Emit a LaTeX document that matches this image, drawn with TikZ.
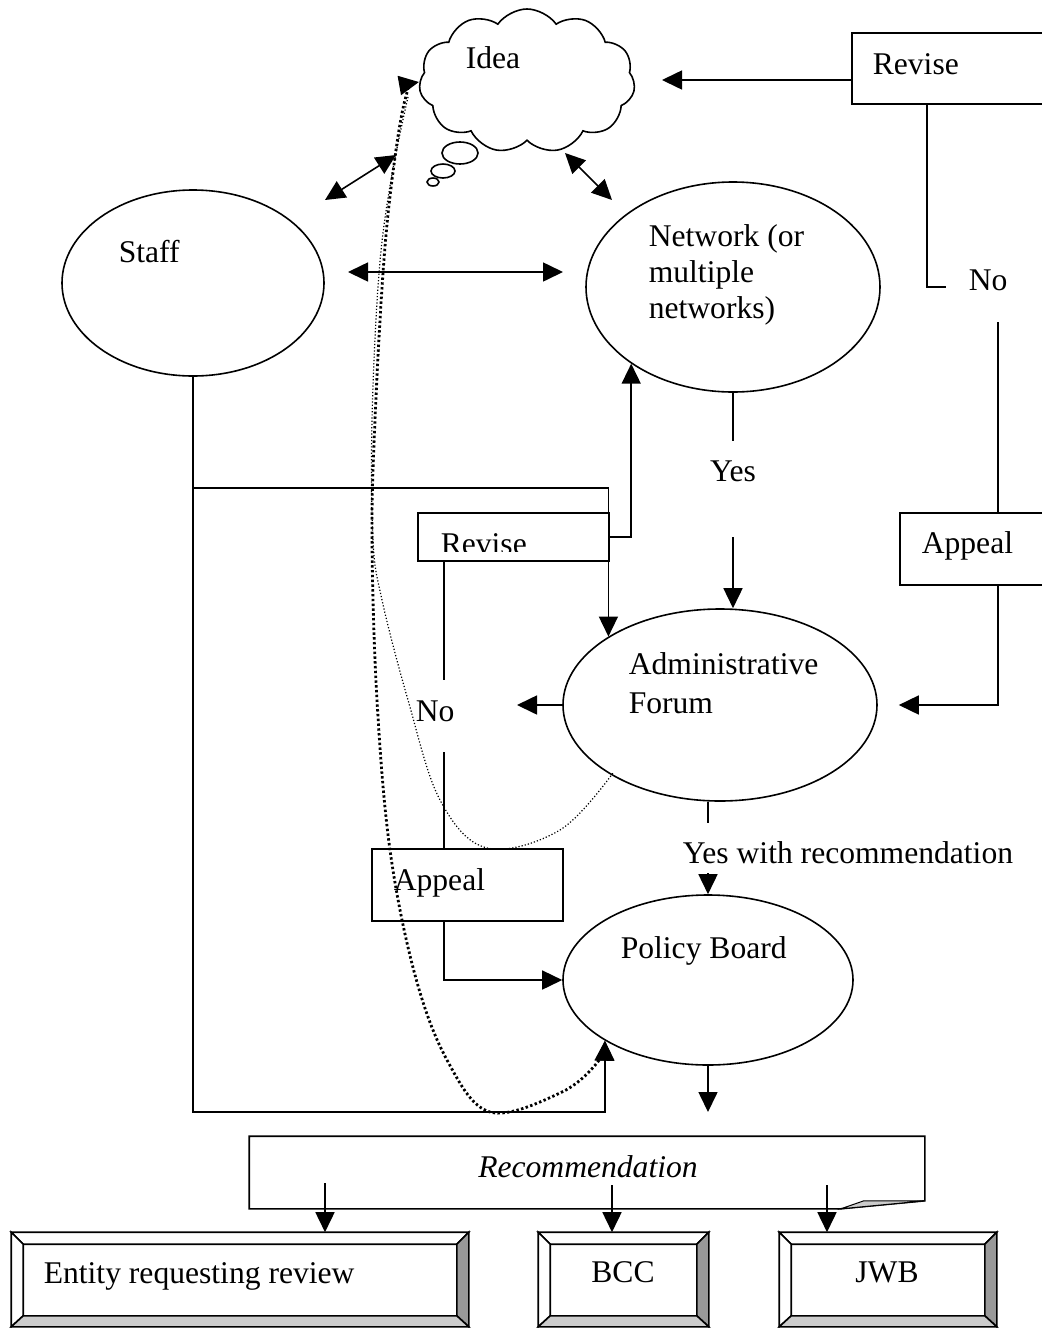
\documentclass[tikz,border=0pt]{standalone}
\usepackage{fontspec}
\setmainfont{Liberation Serif}
\usetikzlibrary{arrows.meta,shapes.geometric,shapes.symbols,calc}
\definecolor{bevelshade}{HTML}{999999}
\definecolor{bevellight}{HTML}{CCCCCC}

% raised frame: white top/left faces, shaded right/bottom faces
\newcommand\bevelframe[1]{%
  \coordinate (#1-inw) at ($(#1.north west)+(12,12)$);
  \coordinate (#1-ine) at ($(#1.north east)+(-12,12)$);
  \coordinate (#1-ise) at ($(#1.south east)+(-12,-11)$);
  \coordinate (#1-isw) at ($(#1.south west)+(12,-11)$);
  \draw[fill=white] (#1.north west) -- (#1.north east) -- (#1-ine) -- (#1-inw) -- cycle;
  \draw[fill=white] (#1.north west) -- (#1-inw) -- (#1-isw) -- (#1.south west) -- cycle;
  \draw[fill=bevelshade] (#1.north east) -- (#1.south east) -- (#1-ise) -- (#1-ine) -- cycle;
  \draw[fill=bevellight] (#1.south west) -- (#1-isw) -- (#1-ise) -- (#1.south east) -- cycle;
}

\begin{document}
\begin{tikzpicture}[x=0.5pt,y=-0.5pt,line width=0.8pt,
  >={Triangle[length=10pt,width=9.5pt]},
  lbl/.style={inner sep=0pt, font=\fontsize{15.8pt}{18pt}\selectfont},
  ell/.style={draw, ellipse, inner sep=0pt},
  box/.style={draw, rectangle, inner sep=0pt},
  bevelbox/.style={draw, rectangle, inner sep=0pt},
  bigdots/.style={line width=1.4pt, dash pattern=on 1.2pt off 1.2pt},
  finedots/.style={line width=0.6pt, dash pattern=on 0.6pt off 1pt}]

\useasboundingbox (0,0) rectangle (1042,1328);

% ---- idea cloud with thought bubbles
\node[draw, cloud, cloud puffs=11, cloud puff arc=110, aspect=1.5,
      minimum width=108pt, minimum height=72pt, inner sep=0pt] (idea) at (527,81) {};
\node[lbl, anchor=base west] (ideatext) at (465,68) {Idea};
\draw (460,153) ellipse [x radius=9pt, y radius=5.5pt];
\draw (443,171) ellipse [x radius=6pt, y radius=3.5pt];
\draw (433,182) ellipse [x radius=3pt, y radius=2pt];

% ---- ellipses (multi-line labels sit on the baseline of their last line)
\node[ell, minimum width=131pt, minimum height=93pt] (staff) at (193,283) {};
\node[lbl, anchor=base west] (stafftext) at (118,262) {Staff};

\node[ell, minimum width=147pt, minimum height=105pt] (network) at (733,287) {};
\node[lbl, anchor=base west, align=left] (networktext) at (648,318) {Network (or\\multiple\\networks)};

\node[ell, minimum width=157pt, minimum height=96pt] (admin) at (720,705) {};
\node[lbl, anchor=base west, align=left, font=\fontsize{15.8pt}{19.5pt}\selectfont] (admintext) at (628,713) {Administrative\\Forum};

\node[ell, minimum width=145pt, minimum height=85pt] (policy) at (708,980) {};
\node[lbl, anchor=base west] (policytext) at (620,958) {Policy Board};

% ---- rectangles
\node[box, minimum width=100pt, minimum height=35.5pt] (revtop) at (952,68.5) {};
\node[lbl, anchor=base west] (revtoptext) at (872,74) {Revise};

\node[box, minimum width=76pt, minimum height=36pt] (appealR) at (976,549) {};
\node[lbl, anchor=base west] (appealRtext) at (921,553) {Appeal};

\node[box, minimum width=95.5pt, minimum height=24pt] (revmid) at (513.5,537) {};
\begin{scope}
  \clip (418,513) rectangle (609,551);
  \node[lbl, anchor=base west] (revmidtext) at (440,554) {Revise};
\end{scope}

\node[box, minimum width=95.5pt, minimum height=36pt] (appealL) at (467.5,885) {};
\node[lbl, anchor=base west] (appealLtext) at (393,890) {Appeal};

% ---- two-way links around the idea
\coordinate (siA) at (325,200);   \coordinate (siB) at (396,155);
\coordinate (inA) at (565,153);   \coordinate (inB) at (612,200);
\coordinate (snA) at (348,272);   \coordinate (snB) at (563,272);
\draw[<->] (siA) -- (siB);
\draw[<->] (inA) -- (inB);
\draw[<->] (snA) -- (snB);

% ---- revise (top) feeding back to the idea
\coordinate (ideaIn) at (662,80);
\draw[->] (revtop.west |- ideaIn) -- (ideaIn);
\coordinate (noRbend) at (927,287);
\draw (revtop.south -| noRbend) -- (noRbend) -- (946,287);
\node[lbl, anchor=base west] (noR) at (968,290) {No};
\coordinate (noRtail) at (998,322);
\draw (noRtail) -- (noRtail |- appealR.north);
\draw[->] (noRtail |- appealR.south) |- ($(admin.east)+(21,0)$);

% ---- network to forum
\draw (network.south) -- ++(0,48);
\node[lbl, anchor=base] (yes) at (733,481) {Yes};
\coordinate (yesTail) at (733,537);
\draw[->] (yesTail) -- (yesTail |- admin.north);

% ---- staff routes
\draw[->] (staff.south) |- (policy.south west |- 0,1112) -- (policy.south west);
\draw[->] (staff.south |- 0,488) -| (admin.north west);
\draw[->] (revmid.east) -| (network.217.6);

% ---- forum rejection loop
\coordinate (adminOut) at (517,705);
\draw[->] (admin.west) -- (adminOut);
\draw (revmid.south -| 444,0) -- (444,680);
\node[lbl, anchor=base west] (noL) at (415,721) {No};
\coordinate (noLtail) at (444,752);
\draw (noLtail) -- (noLtail |- appealL.north);
\draw[->] (appealL.south -| noLtail) |- (policy.west);

% ---- forum to board
\coordinate (ywrHead) at (708,823);
\draw (admin.south -| ywrHead) -- (ywrHead);
\node[lbl, anchor=base west] (ywr) at (682,863) {Yes with recommendation};
\coordinate (ywrTail) at (708,873);
\draw[->] (ywrTail) -- (ywrTail |- policy.north);
\coordinate (pbOut) at (708,1112);
\draw[->] (policy.south) -- (pbOut);

% ---- dotted feedback curves
\coordinate (ideaDot) at (419,82);
\draw[finedots] plot[smooth, tension=0.6] coordinates {(408,97) (391,180) (379,273) (372,420) (373,540) (382,600) (408,700) (440,800) (487,848) (560,830) (613,773)};
\draw[bigdots,<->] plot[smooth, tension=0.6] coordinates {(ideaDot) (405,100) (392,180) (383,273) (375,420) (372,540) (377,700) (390,850) (415,975) (447,1060) (490,1112) (560,1093) (597,1063) (policy.south west)};

% ---- recommendation sheet with curled corner
\node[inner sep=0pt, minimum width=337pt, minimum height=35.5pt] (rec) at (587,1172.5) {};
\draw (rec.north west) -- (rec.north east) -- ($(rec.south east)+(0,-8)$)
      -- ($(rec.south east)+(-84,0)$) -- (rec.south west) -- cycle;
\draw[fill=bevellight, line width=0.5pt] ($(rec.south east)+(-84,0)$) -- ($(rec.south east)+(-61,-8)$) -- ($(rec.south east)+(0,-8)$) -- cycle;
\node[lbl, anchor=base] (rectext) at (588,1177) {\itshape Recommendation};

% ---- recipients
\node[bevelbox, minimum width=228pt, minimum height=46.5pt] (entity) at (240,1279.5) {};
\bevelframe{entity}
\node[lbl, anchor=base west] (entitytext) at (43,1283) {Entity requesting review};

\node[bevelbox, minimum width=84.5pt, minimum height=46.5pt] (bcc) at (623.5,1279.5) {};
\bevelframe{bcc}
\node[lbl, anchor=base] (bcctext) at (623,1282) {BCC};

\node[bevelbox, minimum width=108pt, minimum height=46.5pt] (jwb) at (888,1279.5) {};
\bevelframe{jwb}
\node[lbl, anchor=base] (jwbtext) at (887,1282) {JWB};

\coordinate (rA) at (325,1183);
\coordinate (rB) at (612,1185);
\coordinate (rC) at (827,1185);
\draw[->] (rA) -- (rA |- entity.north);
\draw[->] (rB) -- (rB |- bcc.north);
\draw[->] (rC) -- (rC |- jwb.north);

\end{tikzpicture}
\end{document}
